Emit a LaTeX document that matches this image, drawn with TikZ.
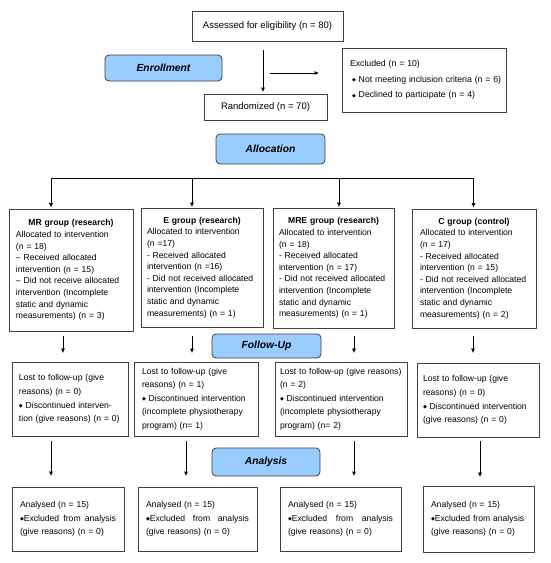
\documentclass[tikz,border=0pt]{standalone}
\usepackage{fontspec}
\setmainfont{Liberation Sans}
\newfontfamily\symf{DejaVu Sans}
\usetikzlibrary{arrows.meta}
\definecolor{boxgray}{RGB}{64,64,64}
\definecolor{labfill}{RGB}{153,204,255}
\newcommand\dia{\raisebox{0.7pt}{\symf\fontsize{5}{5}\selectfont ◆}}
\newcommand\ctitle[1]{\makebox[\linewidth][c]{\bfseries #1}}
\newcommand\exline{\leavevmode\hbox to\linewidth{\dia Excluded\hfill from\hfill analysis}}
\begin{document}
\begin{tikzpicture}[x=1pt,y=-1pt,
  box/.style={draw=boxgray,line width=0.8pt,outer sep=0pt,inner ysep=0pt,anchor=north west},
  grp/.style={box,align=left,font=\fontsize{8.6}{11.6}\selectfont},
  fu/.style={box,align=left,font=\fontsize{8.6}{13.6}\selectfont},
  an/.style={box,align=left,font=\fontsize{8.6}{13.7}\selectfont},
  lab/.style={draw=boxgray,fill=labfill,line width=0.8pt,rounded corners=4pt,outer sep=0pt,anchor=north west,
    font=\fontsize{10.3}{12}\selectfont\bfseries\itshape},
  arr/.style={-{Latex[length=4.5pt,width=4pt]},line width=0.6pt},
  ln/.style={line width=0.6pt}]
\useasboundingbox (0,0) rectangle (550,563);
\fill[white] (0,0) rectangle (550,563);

% top part
\node[box,minimum width=151pt,minimum height=30pt,font=\fontsize{9.5}{11}\selectfont] (assessed) at (192,11) {Assessed for eligibility (n = 80)};
\node[lab,minimum width=117pt,minimum height=26pt] (enroll) at (105,55) {Enrollment};
\node[box,minimum width=164pt,minimum height=64pt,inner xsep=8pt,text width=148pt,align=left,
  font=\fontsize{8.7}{15.5}\selectfont] (excl) at (342,48)
  {\mbox{Excluded (n = 10)}\\\mbox{\hspace*{2pt}\dia\ Not meeting inclusion criteria (n = 6)}\\\mbox{\hspace*{2pt}\dia\ Declined to participate (n = 4)}};
\node[box,minimum width=123pt,minimum height=26pt,font=\fontsize{9.5}{11}\selectfont] (rand) at (204,94) {Randomized (n = 70)};
\node[lab,minimum width=109pt,minimum height=30pt] (alloc) at (216,134) {Allocation};

\coordinate (x263) at (263,0);
\coordinate (bs) at (270,73);
\coordinate (be) at (319,73);
\draw[arr,shorten <=9pt,shorten >=2pt] (assessed.south -| x263) -- (rand.north -| x263);
\draw[arr] (bs) -- (be);

% groups
\node[grp,minimum width=124pt,minimum height=122pt,inner xsep=7pt,text width=110pt] (mr) at (9,209)
 {\ctitle{MR group (research)}\\Allocated to intervention\\(n = 18)\\– Received allocated\\intervention (n = 15)\\– Did not receive allocated\\intervention (Incomplete\\static and dynamic\\measurements) (n = 3)};
\node[grp,minimum width=122pt,minimum height=119pt,inner xsep=6pt,text width=110pt] (eg) at (141,208)
 {\ctitle{E group (research)}\\Allocated to intervention\\(n =17)\\- Received allocated\\intervention (n =16)\\- Did not received allocated\\intervention (Incomplete\\static and dynamic\\measurements) (n = 1)};
\node[grp,minimum width=121pt,minimum height=120pt,inner xsep=6pt,text width=109pt] (mre) at (273,208)
 {\ctitle{MRE group (research)}\\Allocated to intervention\\(n = 18)\\- Received allocated\\intervention (n = 17)\\- Did not received allocated\\intervention (Incomplete\\static and dynamic\\measurements) (n = 1)};
\node[grp,minimum width=124pt,minimum height=119pt,inner xsep=8pt,text width=108pt] (cg) at (412,209)
 {\ctitle{C group (control)}\\Allocated to intervention\\(n = 17)\\- Received allocated\\intervention (n = 15)\\- Did not received allocated\\intervention (Incomplete\\static and dynamic\\measurements) (n = 2)};

% bar
\coordinate (b1) at (51,178);
\coordinate (b2) at (192,178);
\coordinate (b3) at (339,178);
\coordinate (b4) at (473.5,178);
\draw[ln] (b1) -- (b4);
\draw[arr,shorten >=1.5pt] (b1) -- (mr.north -| b1);
\draw[arr,shorten >=1pt] (b2) -- (eg.north -| b2);
\draw[arr,shorten >=1pt] (b3) -- (mre.north -| b3);
\draw[arr,shorten >=1.5pt] (b4) -- (cg.north -| b4);

% follow-up
\node[lab,minimum width=109pt,minimum height=24pt] (follow) at (212,334) {Follow-Up};
\node[fu,minimum width=116pt,minimum height=74pt,inner xsep=7pt,text width=102pt] (fu1) at (12,362)
 {Lost to follow-up (give\\reasons) (n = 0)\\\dia\ Discontinued interven-\\tion (give reasons) (n = 0)};
\node[fu,minimum width=124pt,minimum height=74pt,inner xsep=8pt,text width=108pt] (fu2) at (134,362)
 {Lost to follow-up (give\\reasons) (n = 1)\\\dia\ Discontinued intervention\\(incomplete physiotherapy\\program) (n= 1)};
\node[fu,minimum width=132pt,minimum height=74pt,inner xsep=5pt,text width=122pt] (fu3) at (275,362)
 {Lost to follow-up (give reasons)\\(n = 2)\\\dia\ Discontinued intervention\\(incomplete physiotherapy\\program) (n= 2)};
\node[fu,minimum width=122pt,minimum height=74pt,inner xsep=6pt,text width=110pt] (fu4) at (417,363)
 {Lost to follow-up (give\\reasons) (n = 0)\\\dia\ Discontinued intervention\\(give reasons) (n = 0)};

\coordinate (x63) at (63,0);
\coordinate (x192) at (192,0);
\coordinate (x354) at (354,0);
\coordinate (x473) at (473,0);
\draw[arr,shorten <=5pt,shorten >=9pt] (mr.south -| x63) -- (fu1.north -| x63);
\draw[arr,shorten <=9pt,shorten >=9pt] (eg.south -| x192) -- (fu2.north -| x192);
\draw[arr,shorten <=8pt,shorten >=9pt] (mre.south -| x354) -- (fu3.north -| x354);
\draw[arr,shorten <=8pt,shorten >=10pt] (cg.south -| x473) -- (fu4.north -| x473);

% analysis
\node[lab,minimum width=108pt,minimum height=28pt] (analysis) at (212,448) {Analysis};
\node[an,minimum width=112pt,minimum height=64pt,inner xsep=8pt,text width=96pt] (an1) at (12,487)
 {Analysed (n = 15)\\\exline\\(give reasons) (n = 0)};
\node[an,minimum width=119pt,minimum height=64pt,inner xsep=8pt,text width=103pt] (an2) at (138,487)
 {Analysed (n = 15)\\\exline\\(give reasons) (n = 0)};
\node[an,minimum width=121pt,minimum height=64pt,inner xsep=8pt,text width=105pt] (an3) at (280,487)
 {Analysed (n = 15)\\\exline\\(give reasons) (n = 0)};
\node[an,minimum width=111pt,minimum height=66pt,inner xsep=8pt,text width=95pt] (an4) at (423,486)
 {Analysed (n = 15)\\\dia Excluded from analysis\\(give reasons) (n = 0)};

\coordinate (x51) at (51,0);
\coordinate (x186) at (186,0);
\coordinate (x480) at (480,0);
\draw[arr,shorten <=5pt,shorten >=11pt] (fu1.south -| x51) -- (an1.north -| x51);
\draw[arr,shorten <=5pt,shorten >=11pt] (fu2.south -| x186) -- (an2.north -| x186);
\draw[arr,shorten <=5pt,shorten >=11pt] (fu3.south -| x354) -- (an3.north -| x354);
\draw[arr,shorten <=4pt,shorten >=9pt] (fu4.south -| x480) -- (an4.north -| x480);
\end{tikzpicture}
\end{document}
